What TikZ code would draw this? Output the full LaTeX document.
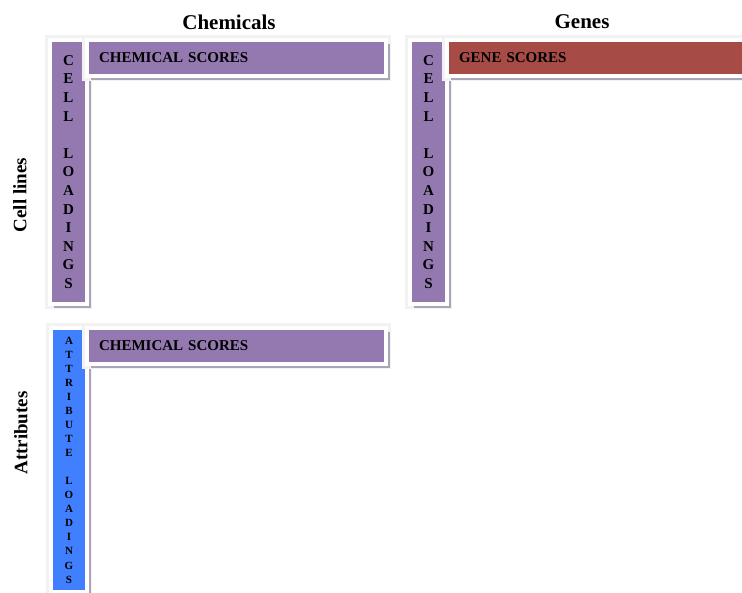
\documentclass[tikz,border=0pt]{standalone}
\usepackage{fontspec}
\setmainfont{Liberation Serif}
\usepackage{xcolor}
\usepackage{tikz}
\usetikzlibrary{shadows}
\definecolor{loadpurple}{HTML}{9479B0}
\definecolor{genered}{HTML}{A64B45}
\definecolor{attrblue}{HTML}{4080FF}
\definecolor{shadowgrey}{HTML}{ABA3B8}
\definecolor{halogrey}{HTML}{F2F2F2}
\tikzset{
  bar/.style={rectangle, fill=#1, draw=white, line width=4pt, inner sep=0pt,
    preaction={draw=halogrey, line width=10pt},
    general shadow={fill=shadowgrey, shadow xshift=4pt, shadow yshift=-4pt}},
  loadbar/.style={bar=#1, minimum width=37pt, minimum height=264pt, align=center,
    font=\bfseries\fontsize{15}{18.6}\selectfont},
  scorebar/.style={bar=#1, minimum height=36pt, inner xsep=12pt, align=left,
    font=\bfseries\fontsize{15}{18}\selectfont},
  heading/.style={font=\bfseries\fontsize{21}{25}\selectfont},
  rowlabel/.style={font=\bfseries\fontsize{19}{22}\selectfont, rotate=90},
}

\begin{document}
\begin{tikzpicture}[x=1pt, y=-1pt]
    \clip (0,0) rectangle (742,592);
    \fill[white] (0,0) rectangle (742,592);
    % Headings
    \node[heading] (chem) at (229,22) {Chemicals};
    \node[heading] (genes) at (582,22) {Genes};
    \node[rowlabel] (cells) at (20,195) {Cell lines};
    \node[rowlabel] (attr) at (21,433) {Attributes};
    % Cell lines x chemicals
    \node[loadbar=loadpurple] (cl1) at (68.5,172) {C\\E\\L\\L\\[18.6pt]L\\O\\A\\D\\I\\N\\G\\S};
    \node[scorebar=loadpurple, text width=275pt] (cs1) at (236.5,58) {CHEMICAL SCORES};
    % Cell lines x genes
    \node[loadbar=loadpurple] (cl2) at (428.5,172) {C\\E\\L\\L\\[18.6pt]L\\O\\A\\D\\I\\N\\G\\S};
    \node[scorebar=genered, text width=276pt] (gs) at (597,58) {GENE SCORES};
    % Attributes x chemicals
    \node[loadbar=attrblue, minimum width=36pt, font=\bfseries\fontsize{11}{14.06}\selectfont] (al) at (69,460)
      {A\\T\\T\\R\\I\\B\\U\\T\\E\\[14.06pt]L\\O\\A\\D\\I\\N\\G\\S};
    \node[scorebar=loadpurple, text width=275pt] (cs2) at (236.5,346) {CHEMICAL SCORES};
\end{tikzpicture}
\end{document}
